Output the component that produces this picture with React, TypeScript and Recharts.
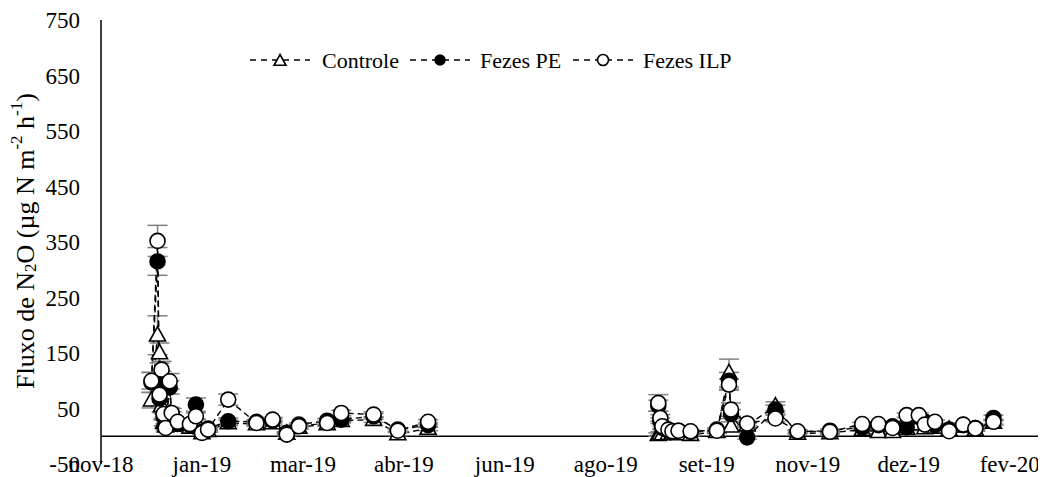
import React from 'react';
import { LineChart, Line, XAxis, YAxis, ReferenceLine, ErrorBar, Legend } from 'recharts';

// Days since the start of the date axis (first tick = nov-18). null row = gap between campaigns.
const days = [
  25, 28, 29, 30, 31, 32, 34, 35, 38, 44, 47, 50, 53, 63, 77, 85, 92, 98, 112, 119, 135, 147, 162,
  220,
  276, 277, 278, 281, 283, 286, 292, 305, 311, 312, 320, 334, 345, 361, 377, 385, 392, 399, 405, 408, 413, 420, 427, 433, 442,
];

const controle = [
  65, 182, 150, 55, 25, 18, 40, 30, 20, 16, 26, 6, 10, 24, 22, 24, 5, 16, 22, 28, 30, 4, 14,
  null,
  3, 5, 4, 5, 5, 4, 3, 8, 114, 18, 20, 54, 5, 6, 12, 8, 8, 14, 22, 15, 16, 12, 18, 12, 25,
];
const fezesPE = [
  97, 315, 68, 105, 35, 18, 88, 38, 22, 20, 57, 8, 14, 27, 26, 28, 6, 21, 28, 30, 36, 12, 20,
  null,
  55, 28, 15, 10, 8, 10, 8, 12, 100, 40, -2, 48, 8, 10, 16, 20, 18, 16, 35, 26, 20, 12, 20, 15, 33,
];
const fezesILP = [
  100, 352, 75, 120, 40, 15, 99, 42, 26, 22, 36, 6, 12, 66, 24, 30, 3, 18, 24, 42, 39, 10, 26,
  null,
  60, 33, 18, 12, 9, 10, 9, 10, 93, 48, 23, 32, 9, 8, 22, 22, 15, 38, 38, 21, 26, 9, 21, 14, 26,
];

const controleErr = [
  14, 35, 18, 12, 6, 5, 12, 6, 4, 4, 5, 3, 3, 5, 4, 4, 2, 3, 4, 4, 5, 3, 4,
  null,
  3, 3, 3, 3, 3, 3, 2, 3, 25, 8, 4, 8, 3, 3, 3, 3, 3, 4, 4, 3, 3, 3, 3, 3, 5,
];
const fezesPEErr = [
  18, 25, 12, 12, 6, 5, 12, 6, 5, 4, 12, 3, 3, 6, 4, 4, 2, 3, 4, 4, 5, 3, 4,
  null,
  10, 5, 3, 3, 3, 3, 2, 3, 15, 8, 3, 8, 3, 3, 3, 3, 3, 4, 4, 3, 3, 3, 3, 3, 5,
];
const fezesILPErr = [
  15, 28, 10, 15, 8, 5, 14, 8, 5, 4, 6, 3, 3, 10, 4, 4, 2, 3, 3, 5, 5, 3, 4,
  null,
  15, 6, 4, 3, 3, 3, 2, 3, 10, 12, 4, 6, 3, 3, 3, 3, 3, 4, 4, 3, 3, 2, 3, 3, 4,
];

const xTicks = [0, 50, 100, 150, 200, 250, 300, 350, 400, 450];
const xTickLabels = ['nov-18', 'jan-19', 'mar-19', 'abr-19', 'jun-19', 'ago-19', 'set-19', 'nov-19', 'dez-19', 'fev-20'];
const yTicks = [-50, 50, 150, 250, 350, 450, 550, 650, 750];

const seriesNames = { controle: 'Controle', fezesPE: 'Fezes PE', fezesILP: 'Fezes ILP' };

const data = days.map((d, i) => ({
  day: d,
  controle: controle[i],
  controleErr: controleErr[i],
  fezesPE: fezesPE[i],
  fezesPEErr: fezesPEErr[i],
  fezesILP: fezesILP[i],
  fezesILPErr: fezesILPErr[i],
}));

const FONT = "'Liberation Serif', 'Times New Roman', serif";
const TICK_FS = 23;
const LEGEND_FS = 22;
const TITLE_FS = 26;

const makeCircleDot = (fill: string, r: number) => (props: any) => {
  const { cx, cy, index, value } = props;
  if (cx == null || cy == null || value == null || isNaN(cy)) return <g key={`c-${fill}-${index}`} />;
  return (
    <circle key={`c-${fill}-${index}`} cx={cx} cy={cy} r={r} fill={fill} stroke="#000" strokeWidth={1.6} strokeDasharray="none" />
  );
};

const triPoints = (cx: number, cy: number, s: number) => {
  const h = s * 0.9;
  return `${cx},${cy - h * 0.6} ${cx - s / 2},${cy + h * 0.4} ${cx + s / 2},${cy + h * 0.4}`;
};

const TriangleDot = (props: any) => {
  const { cx, cy, index, value } = props;
  if (cx == null || cy == null || value == null || isNaN(cy)) return <g key={`t-${index}`} />;
  return (
    <polygon key={`t-${index}`} points={triPoints(cx, cy, 16)} fill="#fff" stroke="#000" strokeWidth={1.6} strokeDasharray="none" />
  );
};

const XTick = (props: any) => {
  const { x, y, payload, index } = props;
  const i = xTicks.indexOf(payload.value);
  return (
    <text key={`xt-${index}`} x={x} y={y} dy="0.35em" textAnchor="middle" fontFamily={FONT} fontSize={TICK_FS} fill="#000">
      {i >= 0 ? xTickLabels[i] : ''}
    </text>
  );
};

const YTitle = () => (
  <text
    x={17}
    y={233}
    transform="rotate(-90 17 233)"
    textAnchor="middle"
    dominantBaseline="central"
    fontFamily={FONT}
    fontSize={TITLE_FS}
    fill="#000"
  >
    <tspan>Fluxo de N</tspan>
    <tspan fontSize={17} dy={5}>2</tspan>
    <tspan dy={-5}>O (µg N m</tspan>
    <tspan fontSize={17} dy={-9}>-2</tspan>
    <tspan dy={9}> h</tspan>
    <tspan fontSize={17} dy={-9}>-1</tspan>
    <tspan dy={9}>)</tspan>
  </text>
);

const legendLayout: Record<string, { lx: number; tx: number }> = {
  controle: { lx: 5, tx: 77 },
  fezesPE: { lx: 165, tx: 235 },
  fezesILP: { lx: 328, tx: 398 },
};

const LegendContent = (props: any) => {
  const payload = props.payload || [];
  return (
    <svg width={520} height={30} style={{ overflow: 'visible' }}>
      {payload.map((p: any) => {
        const key = p.dataKey as string;
        const pos = legendLayout[key];
        if (!pos) return null;
        const mx = pos.lx + 30;
        const cy = 15;
        let marker = null;
        if (key === 'controle') {
          marker = <polygon points={triPoints(mx, cy + 1, 12)} fill="#fff" stroke="#000" strokeWidth={1.6} />;
        } else if (key === 'fezesPE') {
          marker = <circle cx={mx} cy={cy} r={5} fill="#000" stroke="#000" strokeWidth={1.5} />;
        } else {
          marker = <circle cx={mx} cy={cy} r={5.5} fill="#fff" stroke="#000" strokeWidth={1.6} />;
        }
        return (
          <g key={key}>
            <line x1={pos.lx} y1={cy} x2={pos.lx + 60} y2={cy} stroke="#000" strokeWidth={1.5} strokeDasharray="6 5" />
            {marker}
            <text x={pos.tx} y={cy} dominantBaseline="central" fontFamily={FONT} fontSize={LEGEND_FS} fill="#000">
              {seriesNames[key as keyof typeof seriesNames]}
            </text>
          </g>
        );
      })}
    </svg>
  );
};

export default function App() {
  return (
    <div style={{ width: 1038, height: 469 }}>
      <LineChart width={1038} height={469} data={data} margin={{ top: 12, right: 0, bottom: 0, left: 0 }}>
        <XAxis
          dataKey="day"
          type="number"
          domain={[0, 468]}
          ticks={xTicks}
          interval={0}
          axisLine={false}
          tickLine={false}
          tickSize={0}
          tickMargin={0}
          height={13}
          tick={XTick}
          allowDataOverflow
        />
        <YAxis
          type="number"
          domain={[-50, 750]}
          ticks={yTicks}
          interval={0}
          width={93}
          tickLine={false}
          tickSize={0}
          tickMargin={21}
          axisLine={{ stroke: '#000', strokeWidth: 1.5 }}
          tick={{ fontSize: TICK_FS, fill: '#000', fontFamily: FONT }}
          allowDataOverflow
          label={<YTitle />}
        />
        <ReferenceLine y={0} stroke="#000" strokeWidth={1.5} ifOverflow="visible" />
        <Legend
          layout="horizontal"
          verticalAlign="middle"
          align="center"
          content={<LegendContent />}
          wrapperStyle={{ position: 'absolute', top: 37, left: 237, width: 520, height: 30 }}
        />
        <Line dataKey="controle" name="Controle" type="linear" stroke="#000" strokeWidth={1.4} strokeDasharray="6 4"
          dot={TriangleDot} activeDot={false} isAnimationActive={false} connectNulls={false}>
          <ErrorBar dataKey="controleErr" width={10} stroke="#808080" strokeWidth={1.5} direction="y" />
        </Line>
        <Line dataKey="fezesPE" name="Fezes PE" type="linear" stroke="#000" strokeWidth={1.4} strokeDasharray="6 4"
          dot={makeCircleDot('#000', 7.5)} activeDot={false} isAnimationActive={false} connectNulls={false}>
          <ErrorBar dataKey="fezesPEErr" width={10} stroke="#808080" strokeWidth={1.5} direction="y" />
        </Line>
        <Line dataKey="fezesILP" name="Fezes ILP" type="linear" stroke="#000" strokeWidth={1.4} strokeDasharray="6 4"
          dot={makeCircleDot('#fff', 7.5)} activeDot={false} isAnimationActive={false} connectNulls={false}>
          <ErrorBar dataKey="fezesILPErr" width={10} stroke="#808080" strokeWidth={1.5} direction="y" />
        </Line>
      </LineChart>
    </div>
  );
}
